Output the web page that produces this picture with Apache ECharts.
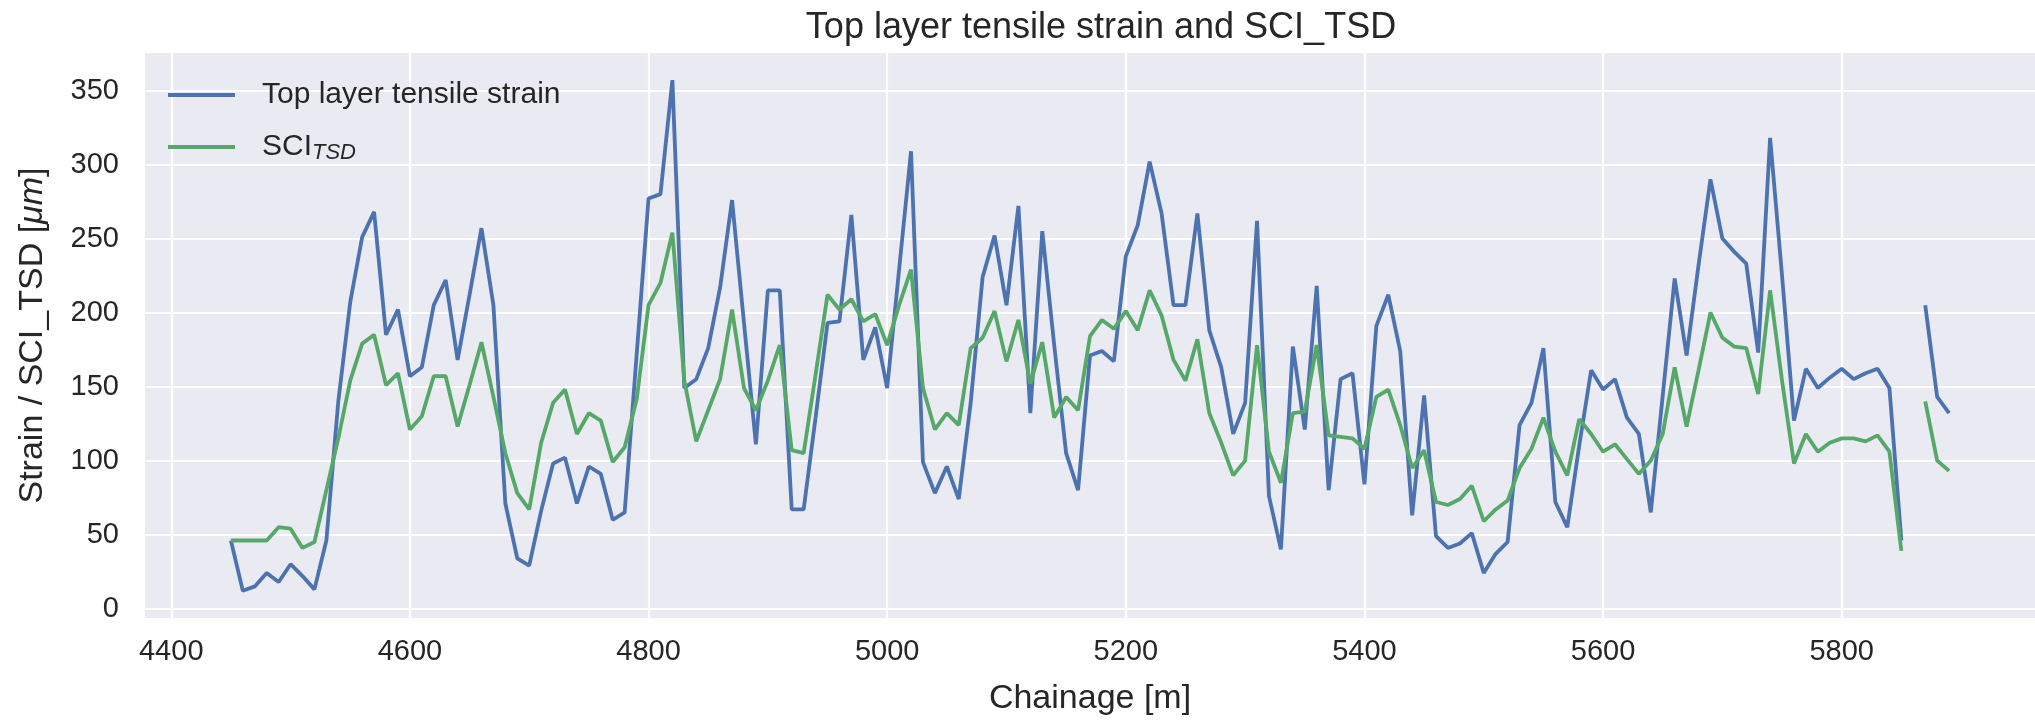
<!DOCTYPE html>
<html>
<head>
<meta charset="utf-8">
<title>Top layer tensile strain and SCI_TSD</title>
<script src="https://cdn.jsdelivr.net/npm/echarts@6/dist/echarts.min.js"></script>
<style>
  html, body { margin: 0; padding: 0; background: #fff; }
  #chart { width: 2035px; height: 721px; }
</style>
</head>
<body>
<div id="chart"></div>
<script>
// chainage [m], one point every 10 m, 5860 missing
const chainage = [
  4450, 4460, 4470, 4480, 4490, 4500, 4510, 4520, 4530, 4540,
  4550, 4560, 4570, 4580, 4590, 4600, 4610, 4620, 4630, 4640,
  4650, 4660, 4670, 4680, 4690, 4700, 4710, 4720, 4730, 4740,
  4750, 4760, 4770, 4780, 4790, 4800, 4810, 4820, 4830, 4840,
  4850, 4860, 4870, 4880, 4890, 4900, 4910, 4920, 4930, 4940,
  4950, 4960, 4970, 4980, 4990, 5000, 5010, 5020, 5030, 5040,
  5050, 5060, 5070, 5080, 5090, 5100, 5110, 5120, 5130, 5140,
  5150, 5160, 5170, 5180, 5190, 5200, 5210, 5220, 5230, 5240,
  5250, 5260, 5270, 5280, 5290, 5300, 5310, 5320, 5330, 5340,
  5350, 5360, 5370, 5380, 5390, 5400, 5410, 5420, 5430, 5440,
  5450, 5460, 5470, 5480, 5490, 5500, 5510, 5520, 5530, 5540,
  5550, 5560, 5570, 5580, 5590, 5600, 5610, 5620, 5630, 5640,
  5650, 5660, 5670, 5680, 5690, 5700, 5710, 5720, 5730, 5740,
  5750, 5760, 5770, 5780, 5790, 5800, 5810, 5820, 5830, 5840,
  5850, 5860, 5870, 5880, 5890
]

// top layer tensile strain
const strain = [
  46, 12, 15, 24, 18, 30, 22, 13, 46, 140,
  207, 251, 268, 185, 202, 157, 163, 205, 222, 168,
  212, 257, 205, 71, 34, 29, 66, 98, 102, 71,
  96, 91, 60, 65, 171, 277, 280, 357, 149, 155,
  176, 217, 276, 193, 111, 215, 215, 67, 67, 129,
  193, 194, 266, 168, 190, 149, 229, 309, 99, 78,
  96, 74, 139, 224, 252, 205, 272, 132, 255, 178,
  105, 80, 171, 174, 167, 238, 259, 302, 267, 205,
  205, 267, 188, 163, 118, 139, 262, 76, 40, 177,
  121, 218, 80, 155, 159, 84, 191, 212, 174, 63,
  144, 49, 41, 44, 51, 24, 37, 45, 124, 139,
  176, 72, 55, 110, 161, 148, 155, 129, 118, 65,
  144, 223, 171, 232, 290, 250, 241, 233, 173, 318,
  225, 127, 162, 149, 156, 162, 155, 159, 162, 149,
  46, null, 205, 143, 132
]

// SCI_TSD
const sciTsd = [
  46, 46, 46, 46, 55, 54, 41, 45, 80, 115,
  154, 179, 185, 151, 159, 121, 130, 157, 157, 123,
  151, 180, 143, 105, 78, 67, 112, 139, 148, 118,
  132, 127, 99, 109, 141, 205, 220, 254, 154, 113,
  134, 155, 202, 149, 134, 154, 178, 107, 105, 158,
  212, 202, 209, 194, 199, 178, 205, 229, 149, 121,
  132, 124, 176, 183, 201, 167, 195, 152, 180, 129,
  143, 134, 184, 195, 189, 201, 188, 215, 198, 168,
  154, 182, 132, 112, 90, 100, 178, 106, 85, 132,
  133, 178, 117, 116, 115, 108, 143, 148, 124, 95,
  107, 72, 70, 74, 83, 59, 67, 73, 95, 108,
  129, 106, 90, 128, 118, 106, 111, 101, 91, 100,
  118, 163, 123, 161, 200, 183, 177, 176, 145, 215,
  154, 98, 118, 106, 112, 115, 115, 113, 117, 106,
  39, null, 140, 100, 93
]

const textColor = '#262626'
const font = 'Liberation Sans, Arial, sans-serif'

const chart = echarts.init(document.getElementById('chart'))
chart.setOption({
  animation: false,
  backgroundColor: '#fff',
  color: ['#4C72B0', '#55A868'],
  title: {
    text: 'Top layer tensile strain and SCI_TSD',
    left: 1096,
    top: 5,
    textAlign: 'center',
    textStyle: { fontFamily: font, fontSize: 36, fontWeight: 'normal', color: textColor }
  },
  legend: {
    orient: 'vertical',
    left: 168,
    top: 78,
    padding: 0,
    itemGap: 18,
    itemWidth: 67,
    itemHeight: 3.8,
    icon: 'rect',
    data: ['Top layer tensile strain', 'SCI_TSD'],
    formatter: function (name) {
      return name === 'SCI_TSD' ? '{m|SCI}{s|TSD}' : name
    },
    textStyle: {
      fontFamily: font,
      fontSize: 30,
      lineHeight: 34,
      color: textColor,
      padding: [0, 0, 0, 22],
      rich: {
        m: { fontFamily: font, fontSize: 30, lineHeight: 34, color: textColor },
        s: { fontFamily: font, fontSize: 22, fontStyle: 'italic', lineHeight: 20, verticalAlign: 'bottom', color: textColor }
      }
    }
  },
  grid: {
    show: true,
    left: 145,
    right: -12,
    top: 53,
    bottom: 97,
    backgroundColor: '#EAEAF2',
    borderWidth: 0
  },
  xAxis: {
    type: 'value',
    min: 4378,
    max: 5962,
    splitNumber: 8,
    name: 'Chainage [m]',
    nameLocation: 'middle',
    nameGap: 64,
    nameTextStyle: { fontFamily: font, fontSize: 34, color: textColor },
    axisLine: { show: false },
    axisTick: { show: false },
    axisLabel: {
      margin: 19,
      fontFamily: font,
      fontSize: 29,
      color: textColor,
      showMinLabel: false,
      showMaxLabel: false,
      formatter: function (v) { return String(v) }
    },
    splitLine: { show: true, showMinLine: false, showMaxLine: false, lineStyle: { color: '#fff', width: 2.2 } }
  },
  yAxis: {
    type: 'value',
    min: -6.35,
    max: 375.35,
    splitNumber: 8,
    name: '{n|Strain / SCI_TSD [}{i|μm}{n|]}',
    nameLocation: 'middle',
    nameGap: 95,
    nameTextStyle: {
      fontFamily: font,
      fontSize: 34,
      color: textColor,
      rich: {
        n: { fontFamily: font, fontSize: 34, color: textColor },
        i: { fontFamily: font, fontSize: 34, fontStyle: 'italic', color: textColor }
      }
    },
    axisLine: { show: false },
    axisTick: { show: false },
    axisLabel: {
      margin: 26,
      fontFamily: font,
      fontSize: 29,
      color: textColor,
      showMinLabel: false,
      showMaxLabel: false
    },
    splitLine: { show: true, showMinLine: false, showMaxLine: false, lineStyle: { color: '#fff', width: 2.2 } }
  },
  series: [
    {
      name: 'Top layer tensile strain',
      type: 'line',
      symbol: 'none',
      connectNulls: false,
      lineStyle: { width: 3.8 },
      data: chainage.map((c, i) => [c, strain[i]])
    },
    {
      name: 'SCI_TSD',
      type: 'line',
      symbol: 'none',
      connectNulls: false,
      lineStyle: { width: 3.8 },
      data: chainage.map((c, i) => [c, sciTsd[i]])
    }
  ]
})
</script>
</body>
</html>
